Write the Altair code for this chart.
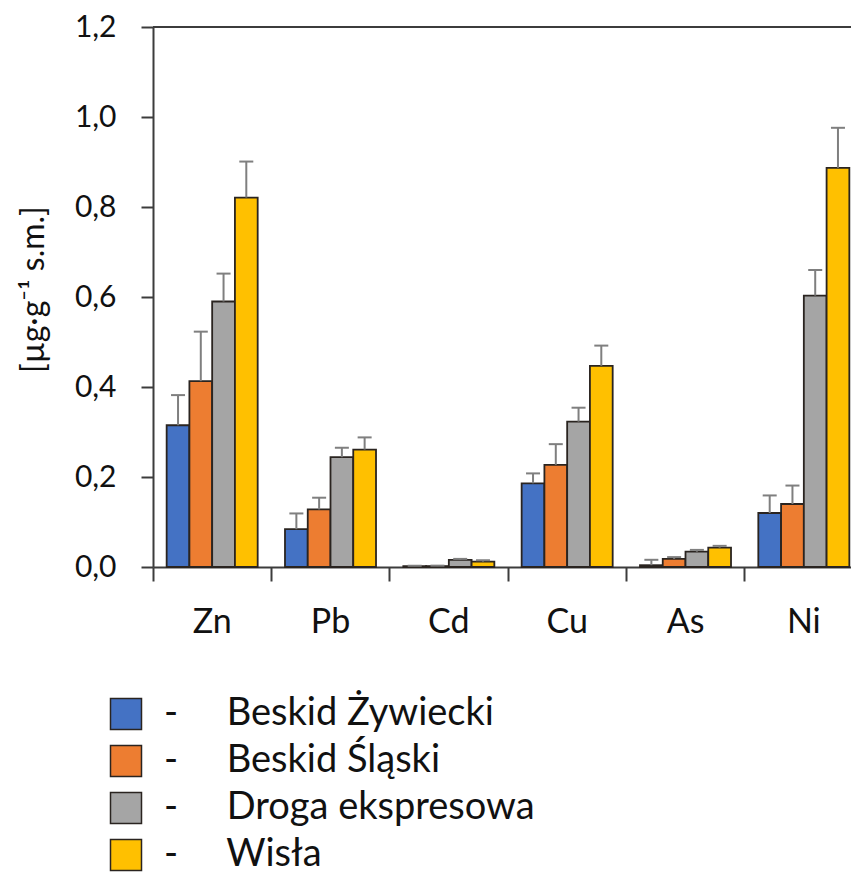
import altair as alt
import pandas as pd

# Metal concentrations per site (mean and standard deviation)
metals = ["Zn", "Pb", "Cd", "Cu", "As", "Ni"]
sites = ["Beskid Żywiecki", "Beskid Śląski", "Droga ekspresowa", "Wisła"]
colors = ["#4472C4", "#ED7D31", "#A5A5A5", "#FFC000"]

means = {
    "Beskid Żywiecki": [0.315, 0.084, 0.002, 0.186, 0.004, 0.120],
    "Beskid Śląski": [0.413, 0.128, 0.002, 0.227, 0.018, 0.140],
    "Droga ekspresowa": [0.590, 0.244, 0.016, 0.323, 0.034, 0.603],
    "Wisła": [0.821, 0.261, 0.012, 0.447, 0.043, 0.887],
}
errors = {
    "Beskid Żywiecki": [0.067, 0.035, 0.001, 0.022, 0.012, 0.039],
    "Beskid Śląski": [0.110, 0.026, 0.001, 0.046, 0.004, 0.041],
    "Droga ekspresowa": [0.062, 0.021, 0.002, 0.031, 0.004, 0.057],
    "Wisła": [0.080, 0.027, 0.003, 0.045, 0.004, 0.089],
}

rows = []
for s in sites:
    for m, v, e in zip(metals, means[s], errors[s]):
        rows.append({"metal": m, "site": s, "value": v, "err": e})
df = pd.DataFrame(rows)

FONT = "Lato"
AXIS_COLOR = "#3c3c3c"
ERR_COLOR = "#7f7f7f"
OUTLINE = "#2a2420"

x_enc = alt.X(
    "metal:N",
    sort=metals,
    scale=alt.Scale(range=[0, 710], paddingInner=0, paddingOuter=0),
    axis=alt.Axis(
        title=None,
        bandPosition=0,
        labelAngle=0,
        labelFont=FONT,
        labelFontSize=34,
        labelColor="#111111",
        labelPadding=24,
        tickSize=14,
        tickWidth=2,
        tickColor=AXIS_COLOR,
        domainColor=AXIS_COLOR,
        domainWidth=2,
    ),
)
xoff_enc = alt.XOffset(
    "site:N", sort=sites, scale=alt.Scale(paddingOuter=0.6, paddingInner=0)
)
y_scale = alt.Scale(domain=[0, 1.2])

base = alt.Chart(df)

bars = base.mark_bar(stroke=OUTLINE, strokeWidth=1.8).encode(
    x=x_enc,
    xOffset=xoff_enc,
    y=alt.Y(
        "value:Q",
        scale=y_scale,
        axis=alt.Axis(
            title="[µg·g⁻¹ s.m.]",
            titleFont=FONT,
            titleFontSize=32,
            titleFontWeight="normal",
            titleColor="#111111",
            titleAngle=270,
            titleX=-120,
            titleY=262,
            titleAlign="center",
            titleBaseline="middle",
            values=[0, 0.2, 0.4, 0.6, 0.8, 1.0, 1.2],
            labelExpr="replace(format(datum.value, '.1f'), '.', ',')",
            labelFont=FONT,
            labelFontSize=30,
            labelColor="#111111",
            labelPadding=25,
            tickSize=12,
            tickWidth=2,
            tickColor=AXIS_COLOR,
            domainColor=AXIS_COLOR,
            domainWidth=2,
            grid=False,
        ),
    ),
    color=alt.Color(
        "site:N",
        sort=sites,
        scale=alt.Scale(domain=sites, range=colors),
        legend=alt.Legend(
            title=None,
            orient="none",
            legendX=-46,
            legendY=668,
            padding=0,
            symbolType="square",
            symbolSize=961,
            symbolStrokeColor=OUTLINE,
            symbolStrokeWidth=1.5,
            symbolOpacity=1,
            labelFont=FONT,
            labelFontSize=38,
            labelColor="#111111",
            labelOffset=19,
            labelLimit=600,
            rowPadding=9,
            labelExpr="'-\u00a0\u00a0\u00a0\u00a0\u00a0' + datum.label",
        ),
    ),
)

err_base = base.transform_calculate(top="datum.value + datum.err")

err_rules = err_base.mark_rule(color=ERR_COLOR, strokeWidth=2).encode(
    x=alt.X("metal:N", sort=metals),
    xOffset=xoff_enc,
    y=alt.Y("value:Q", scale=y_scale),
    y2="top:Q",
)

err_caps = err_base.mark_tick(
    color=ERR_COLOR, orient="horizontal", size=14, thickness=2, opacity=1
).encode(
    x=alt.X("metal:N", sort=metals),
    xOffset=xoff_enc,
    y=alt.Y("top:Q", scale=y_scale),
)

top_border = alt.Chart(pd.DataFrame({"edge": [1.2]})).mark_rule(
    color=AXIS_COLOR, strokeWidth=2
).encode(
    x=alt.value(0),
    x2=alt.value(710),
    y=alt.Y("edge:Q", scale=y_scale),
)

chart = (
    alt.layer(bars, err_rules, err_caps, top_border)
    .properties(
        width=698,
        height=540,
        padding={"left": 153, "top": 27, "right": 0, "bottom": 310},
        autosize=alt.AutoSizeParams(type="none"),
        background="white",
    )
    .configure_view(strokeWidth=0)
)

chart.save("out.html", embed_options={"renderer": "svg", "actions": False})
